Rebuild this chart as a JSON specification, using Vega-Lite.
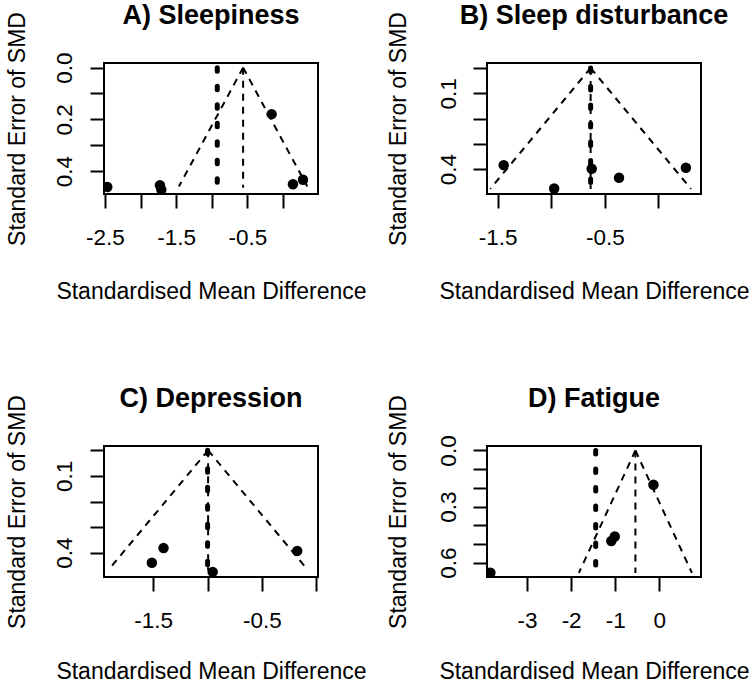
{
  "$schema": "https://vega.github.io/schema/vega-lite/v6.json",
  "background": "white",
  "padding": {"left": 5, "top": 0, "right": 0, "bottom": 0},
  "bounds": "flush",
  "columns": 2,
  "spacing": {"row": 252, "column": 169},
  "config": {
    "view": {"stroke": "black", "strokeWidth": 2},
    "font": "Liberation Sans",
    "title": {"font": "Liberation Sans", "fontSize": 27, "fontWeight": "bold", "color": "black", "baseline": "alphabetic", "offset": -18, "frame": "group", "anchor": "middle"},
    "axis": {"domain": false, "grid": false, "ticks": true, "tickColor": "black", "tickWidth": 2, "tickSize": 14, "labelFont": "Liberation Sans", "labelFontSize": 22.5, "labelColor": "black", "titleFont": "Liberation Sans", "titleFontSize": 23, "titleFontWeight": "normal", "titleColor": "black", "labelOverlap": false, "labelFlush": false}
  },
  "data": {"values": [
    {"panel": "A", "kind": "study", "smd": -2.468, "se": 0.462},
    {"panel": "A", "kind": "study", "smd": -1.728, "se": 0.455},
    {"panel": "A", "kind": "study", "smd": -1.709, "se": 0.472},
    {"panel": "A", "kind": "study", "smd": -0.159, "se": 0.180},
    {"panel": "A", "kind": "study", "smd": 0.140, "se": 0.451},
    {"panel": "A", "kind": "study", "smd": 0.281, "se": 0.434},
    {"panel": "A", "kind": "funnel", "smd": -0.56, "se": 0, "smd2": -1.462, "se2": 0.46},
    {"panel": "A", "kind": "funnel", "smd": -0.56, "se": 0, "smd2": 0.342, "se2": 0.46},
    {"panel": "A", "kind": "funnel", "smd": -0.56, "se": 0, "smd2": -0.56, "se2": 0.465},
    {"panel": "A", "kind": "random", "smd": -0.923, "se": 0, "smd2": -0.923, "se2": 0.465},

    {"panel": "B", "kind": "study", "smd": -1.444, "se": 0.384},
    {"panel": "B", "kind": "study", "smd": -0.973, "se": 0.476},
    {"panel": "B", "kind": "study", "smd": -0.623, "se": 0.398},
    {"panel": "B", "kind": "study", "smd": -0.368, "se": 0.434},
    {"panel": "B", "kind": "study", "smd": 0.256, "se": 0.394},
    {"panel": "B", "kind": "funnel", "smd": -0.633, "se": 0, "smd2": -1.570, "se2": 0.478},
    {"panel": "B", "kind": "funnel", "smd": -0.633, "se": 0, "smd2": 0.304, "se2": 0.478},
    {"panel": "B", "kind": "funnel", "smd": -0.633, "se": 0, "smd2": -0.633, "se2": 0.478},
    {"panel": "B", "kind": "random", "smd": -0.633, "se": 0, "smd2": -0.633, "se2": 0.478},

    {"panel": "C", "kind": "study", "smd": -1.512, "se": 0.439},
    {"panel": "C", "kind": "study", "smd": -1.405, "se": 0.382},
    {"panel": "C", "kind": "study", "smd": -0.953, "se": 0.475},
    {"panel": "C", "kind": "study", "smd": -0.176, "se": 0.393},
    {"panel": "C", "kind": "funnel", "smd": -0.995, "se": 0, "smd2": -1.912, "se2": 0.468},
    {"panel": "C", "kind": "funnel", "smd": -0.995, "se": 0, "smd2": -0.078, "se2": 0.468},
    {"panel": "C", "kind": "funnel", "smd": -0.995, "se": 0, "smd2": -0.995, "se2": 0.47},
    {"panel": "C", "kind": "random", "smd": -1.0, "se": 0, "smd2": -1.0, "se2": 0.47},

    {"panel": "D", "kind": "study", "smd": -3.834, "se": 0.654},
    {"panel": "D", "kind": "study", "smd": -1.087, "se": 0.484},
    {"panel": "D", "kind": "study", "smd": -1.009, "se": 0.460},
    {"panel": "D", "kind": "study", "smd": -0.130, "se": 0.183},
    {"panel": "D", "kind": "funnel", "smd": -0.54, "se": 0, "smd2": -1.824, "se2": 0.655},
    {"panel": "D", "kind": "funnel", "smd": -0.54, "se": 0, "smd2": 0.744, "se2": 0.655},
    {"panel": "D", "kind": "funnel", "smd": -0.54, "se": 0, "smd2": -0.54, "se2": 0.655},
    {"panel": "D", "kind": "random", "smd": -1.442, "se": 0, "smd2": -1.442, "se2": 0.655}
  ]},
  "concat": [
    {
      "width": 214, "height": 131,
      "title": {"text": "A) Sleepiness"},
      "transform": [{"filter": "datum.panel == 'A'"}],
      "encoding": {
        "x": {"field": "smd", "type": "quantitative", "scale": {"domain": [-2.514, 0.492], "nice": false, "zero": false},
              "axis": {"values": [-2.5, -2, -1.5, -1, -0.5, 0], "labelExpr": "datum.value == -2.5 ? '-2.5' : datum.value == -1.5 ? '-1.5' : datum.value == -0.5 ? '-0.5' : ''", "title": "Standardised Mean Difference", "titleX": 107, "titleY": 104, "titleBaseline": "alphabetic", "titleAlign": "center", "labelBaseline": "alphabetic", "labelPadding": 36}},
        "y": {"field": "se", "type": "quantitative", "scale": {"domain": [-0.018, 0.489], "reverse": true, "nice": false, "zero": false},
              "axis": {"values": [0, 0.1, 0.2, 0.3, 0.4], "labelExpr": "datum.value == 0 ? '0.0' : datum.value == 0.2 ? '0.2' : datum.value == 0.4 ? '0.4' : ''", "title": "Standard Error of SMD", "titleX": -80, "titleY": 65.5, "titleAngle": 270, "titleBaseline": "alphabetic", "titleAlign": "center", "labelAngle": 270, "labelAlign": "center", "labelBaseline": "alphabetic", "labelPadding": 19}}
      },
      "layer": [
        {"transform": [{"filter": "datum.kind == 'funnel'"}], "mark": {"type": "rule", "color": "black", "strokeWidth": 2, "strokeDash": [7, 6]}, "encoding": {"x2": {"field": "smd2"}, "y2": {"field": "se2"}}},
        {"transform": [{"filter": "datum.kind == 'random'"}], "mark": {"type": "rule", "color": "black", "strokeWidth": 5, "strokeCap": "round", "strokeDash": [3.5, 15]}, "encoding": {"x2": {"field": "smd2"}, "y2": {"field": "se2"}}},
        {"transform": [{"filter": "datum.kind == 'study'"}], "mark": {"type": "circle", "color": "black", "opacity": 1, "size": 110, "clip": true}, "encoding": {}}
      ]
    },
    {
      "width": 214, "height": 131,
      "title": {"text": "B) Sleep disturbance"},
      "transform": [{"filter": "datum.panel == 'B'"}],
      "encoding": {
        "x": {"field": "smd", "type": "quantitative", "scale": {"domain": [-1.6, 0.397], "nice": false, "zero": false},
              "axis": {"values": [-1.5, -1, -0.5, 0], "labelExpr": "datum.value == -1.5 ? '-1.5' : datum.value == -0.5 ? '-0.5' : ''", "title": "Standardised Mean Difference", "titleX": 107, "titleY": 104, "titleBaseline": "alphabetic", "titleAlign": "center", "labelBaseline": "alphabetic", "labelPadding": 36}},
        "y": {"field": "se", "type": "quantitative", "scale": {"domain": [-0.0197, 0.498], "reverse": true, "nice": false, "zero": false},
              "axis": {"values": [0, 0.1, 0.2, 0.3, 0.4], "labelExpr": "datum.value == 0.1 ? '0.1' : datum.value == 0.4 ? '0.4' : ''", "title": "Standard Error of SMD", "titleX": -81.5, "titleY": 65.5, "titleAngle": 270, "titleBaseline": "alphabetic", "titleAlign": "center", "labelAngle": 270, "labelAlign": "center", "labelBaseline": "alphabetic", "labelPadding": 17.5}}
      },
      "layer": [
        {"transform": [{"filter": "datum.kind == 'funnel'"}], "mark": {"type": "rule", "color": "black", "strokeWidth": 2, "strokeDash": [7, 6]}, "encoding": {"x2": {"field": "smd2"}, "y2": {"field": "se2"}}},
        {"transform": [{"filter": "datum.kind == 'random'"}], "mark": {"type": "rule", "color": "black", "strokeWidth": 5, "strokeCap": "round", "strokeDash": [3.5, 15]}, "encoding": {"x2": {"field": "smd2"}, "y2": {"field": "se2"}}},
        {"transform": [{"filter": "datum.kind == 'study'"}], "mark": {"type": "circle", "color": "black", "opacity": 1, "size": 110, "clip": true}, "encoding": {}}
      ]
    },
    {
      "width": 214, "height": 131,
      "title": {"text": "C) Depression"},
      "transform": [{"filter": "datum.panel == 'C'"}],
      "encoding": {
        "x": {"field": "smd", "type": "quantitative", "scale": {"domain": [-1.952, 0.015], "nice": false, "zero": false},
              "axis": {"values": [-1.5, -1, -0.5, 0], "labelExpr": "datum.value == -1.5 ? '-1.5' : datum.value == -0.5 ? '-0.5' : ''", "title": "Standardised Mean Difference", "titleX": 107, "titleY": 101, "titleBaseline": "alphabetic", "titleAlign": "center", "labelBaseline": "alphabetic", "labelPadding": 36}},
        "y": {"field": "se", "type": "quantitative", "scale": {"domain": [-0.017, 0.495], "reverse": true, "nice": false, "zero": false},
              "axis": {"values": [0, 0.1, 0.2, 0.3, 0.4], "labelExpr": "datum.value == 0.1 ? '0.1' : datum.value == 0.4 ? '0.4' : ''", "title": "Standard Error of SMD", "titleX": -80, "titleY": 65.5, "titleAngle": 270, "titleBaseline": "alphabetic", "titleAlign": "center", "labelAngle": 270, "labelAlign": "center", "labelBaseline": "alphabetic", "labelPadding": 19}}
      },
      "layer": [
        {"transform": [{"filter": "datum.kind == 'funnel'"}], "mark": {"type": "rule", "color": "black", "strokeWidth": 2, "strokeDash": [7, 6]}, "encoding": {"x2": {"field": "smd2"}, "y2": {"field": "se2"}}},
        {"transform": [{"filter": "datum.kind == 'random'"}], "mark": {"type": "rule", "color": "black", "strokeWidth": 5, "strokeCap": "round", "strokeDash": [3.5, 15]}, "encoding": {"x2": {"field": "smd2"}, "y2": {"field": "se2"}}},
        {"transform": [{"filter": "datum.kind == 'study'"}], "mark": {"type": "circle", "color": "black", "opacity": 1, "size": 110, "clip": true}, "encoding": {}}
      ]
    },
    {
      "width": 214, "height": 131,
      "title": {"text": "D) Fatigue"},
      "transform": [{"filter": "datum.panel == 'D'"}],
      "encoding": {
        "x": {"field": "smd", "type": "quantitative", "scale": {"domain": [-3.911, 0.95], "nice": false, "zero": false},
              "axis": {"values": [-3, -2, -1, 0], "labelExpr": "datum.value == -3 ? '-3' : datum.value == -2 ? '-2' : datum.value == -1 ? '-1' : '0'", "title": "Standardised Mean Difference", "titleX": 107, "titleY": 101, "titleBaseline": "alphabetic", "titleAlign": "center", "labelBaseline": "alphabetic", "labelPadding": 36}},
        "y": {"field": "se", "type": "quantitative", "scale": {"domain": [-0.024, 0.677], "reverse": true, "nice": false, "zero": false},
              "axis": {"values": [0, 0.1, 0.2, 0.3, 0.4, 0.5, 0.6], "labelExpr": "datum.value == 0 ? '0.0' : datum.value == 0.3 ? '0.3' : datum.value == 0.6 ? '0.6' : ''", "title": "Standard Error of SMD", "titleX": -81.5, "titleY": 65.5, "titleAngle": 270, "titleBaseline": "alphabetic", "titleAlign": "center", "labelAngle": 270, "labelAlign": "center", "labelBaseline": "alphabetic", "labelPadding": 17.5}}
      },
      "layer": [
        {"transform": [{"filter": "datum.kind == 'funnel'"}], "mark": {"type": "rule", "color": "black", "strokeWidth": 2, "strokeDash": [7, 6]}, "encoding": {"x2": {"field": "smd2"}, "y2": {"field": "se2"}}},
        {"transform": [{"filter": "datum.kind == 'random'"}], "mark": {"type": "rule", "color": "black", "strokeWidth": 5, "strokeCap": "round", "strokeDash": [3.5, 15]}, "encoding": {"x2": {"field": "smd2"}, "y2": {"field": "se2"}}},
        {"transform": [{"filter": "datum.kind == 'study'"}], "mark": {"type": "circle", "color": "black", "opacity": 1, "size": 110, "clip": true}, "encoding": {}}
      ]
    }
  ]
}
